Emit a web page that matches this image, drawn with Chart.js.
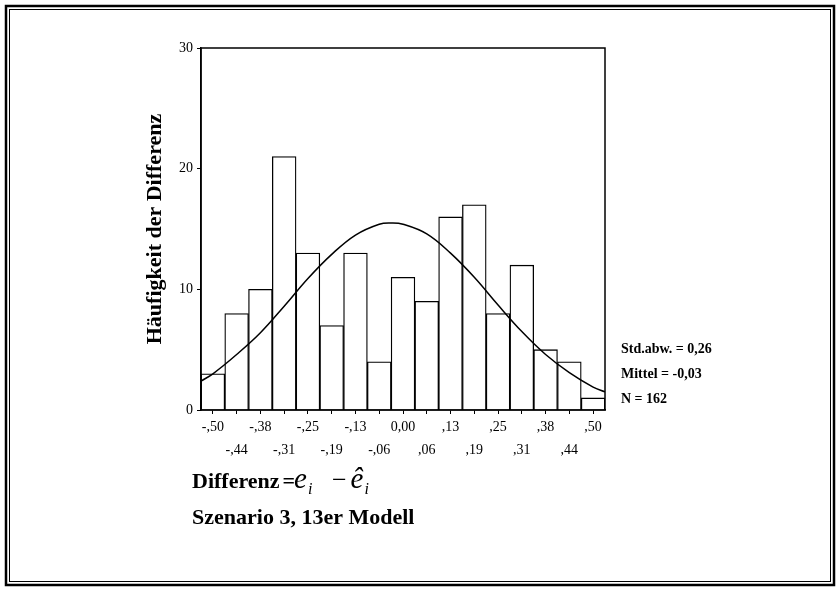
<!DOCTYPE html>
<html>
<head>
<meta charset="utf-8">
<script src="https://cdn.jsdelivr.net/npm/chart.js@4"></script>
<style>
  html, body { margin: 0; padding: 0; background: #fff; }
</style>
</head>
<body>
<canvas id="histChart" width="838" height="592"></canvas>
<script>
// histogram bins (class centres) and counts
const binLabels = ['-,50', '-,44', '-,38', '-,31', '-,25', '-,19', '-,13', '-,06', '0,00',
                   ',06', ',13', ',19', ',25', ',31', ',38', ',44', ',50'];
const counts = [3, 8, 10, 21, 13, 7, 13, 4, 11, 9, 16, 17, 8, 12, 5, 4, 1];

// fitted normal curve
const curveX = [-0.53125, -0.5, -0.4375, -0.375, -0.3125, -0.25, -0.1875, -0.125, -0.0625, -0.03, 0,
                0.0625, 0.125, 0.1875, 0.25, 0.3125, 0.375, 0.4375, 0.5, 0.53125];
const curveY = [2.4, 3.0, 4.6, 6.4, 8.6, 10.9, 12.9, 14.5, 15.4, 15.5, 15.4,
                14.6, 13.0, 11.0, 8.7, 6.5, 4.6, 3.1, 1.9, 1.5];

const yTicks = [0, 10, 20, 30];
const statLines = ['Std.abw. = 0,26', 'Mittel = -0,03', 'N = 162'];
const caption = 'Szenario 3, 13er Modell';

const serif = '"Liberation Serif", "Times New Roman", serif';

const decorations = {
  id: 'decorations',
  afterDraw(chart) {
    const c = chart.ctx;
    const a = chart.chartArea;
    c.save();
    // plot frame
    c.strokeStyle = '#000';
    c.lineWidth = 1.5;
    c.strokeRect(a.left, a.top, a.right - a.left, a.bottom - a.top);

    // outer double frame
    c.lineWidth = 2.5;
    c.strokeRect(6, 6, 828, 579);
    c.lineWidth = 1;
    c.strokeRect(9.5, 9.5, 821, 572);

    // statistics
    c.fillStyle = '#000';
    c.font = 'bold 14px ' + serif;
    c.textBaseline = 'middle';
    statLines.forEach((s, i) => c.fillText(s, 621, 349 + i * 25));

    // x label with formula
    c.textBaseline = 'alphabetic';
    let x = 192;
    const base = 488;
    c.font = 'bold 22px ' + serif;
    c.fillText('Differenz', x, base);
    x += c.measureText('Differenz').width + 3;
    c.fillText('=', x, base);
    x += c.measureText('=').width - 1;
    c.font = 'italic 29px ' + serif;
    c.fillText('e', x, base);
    x += c.measureText('e').width + 1;
    c.font = 'italic 16px ' + serif;
    c.fillText('i', x, base + 6);
    x += 24;
    c.font = '26px ' + serif;
    c.fillText('\u2212', x, base);
    x += c.measureText('\u2212').width + 4;
    c.font = 'italic 29px ' + serif;
    c.fillText('\u00ea', x, base);
    x += c.measureText('\u00ea').width + 1;
    c.font = 'italic 16px ' + serif;
    c.fillText('i', x, base + 6);

    c.font = 'bold 22px ' + serif;
    c.fillText(caption, 192, 524);
    c.restore();
  }
};

const ctx = document.getElementById('histChart').getContext('2d');
const chart = new Chart(ctx, {
  type: 'bar',
  data: {
    labels: binLabels,
    datasets: [
      {
        type: 'bar',
        data: counts,
        xAxisID: 'x',
        backgroundColor: '#fff',
        borderColor: '#000',
        borderWidth: 1.3,
        categoryPercentage: 1,
        barPercentage: 1,
        grouped: false,
        order: 2
      },
      {
        type: 'line',
        data: curveX.map((v, i) => ({ x: v, y: curveY[i] })),
        xAxisID: 'x2',
        borderColor: '#000',
        borderWidth: 1.5,
        pointRadius: 0,
        tension: 0.4,
        fill: false,
        order: 1
      }
    ]
  },
  options: {
    responsive: false,
    animation: false,
    layout: { padding: { left: 0, top: 48, right: 233, bottom: 0 } },
    plugins: { legend: { display: false }, tooltip: { enabled: false } },
    scales: {
      x: {
        type: 'category',
        offset: true,
        afterFit: (s) => { s.height = 182; },
        grid: { drawOnChartArea: false, tickLength: 4, color: '#000', offset: false },
        border: { display: true, color: '#000', width: 1.5 },
        ticks: {
          autoSkip: false,
          maxRotation: 0,
          padding: 2,
          color: '#000',
          font: { family: serif, size: 14, lineHeight: 1.65 },
          callback: (v, i) => (i % 2 === 0 ? [binLabels[i], ''] : ['', binLabels[i]])
        }
      },
      x2: {
        type: 'linear',
        display: false,
        offset: false,
        grid: { offset: false },
        min: -0.53125,
        max: 0.53125
      },
      y: {
        min: 0,
        max: 30,
        afterFit: (s) => { s.width = 201; },
        afterBuildTicks: (s) => { s.ticks = yTicks.map(v => ({ value: v })); },
        grid: { drawOnChartArea: false, tickLength: 4, color: '#000' },
        border: { display: true, color: '#000', width: 1.5 },
        ticks: { color: '#000', padding: 4, font: { family: serif, size: 14 } },
        title: {
          display: true,
          text: 'Häufigkeit der Differenz',
          color: '#000',
          font: { family: serif, size: 22, weight: 'bold' },
          padding: { top: 142, bottom: 0 }
        }
      }
    }
  },
  plugins: [decorations]
});
</script>
</body>
</html>
